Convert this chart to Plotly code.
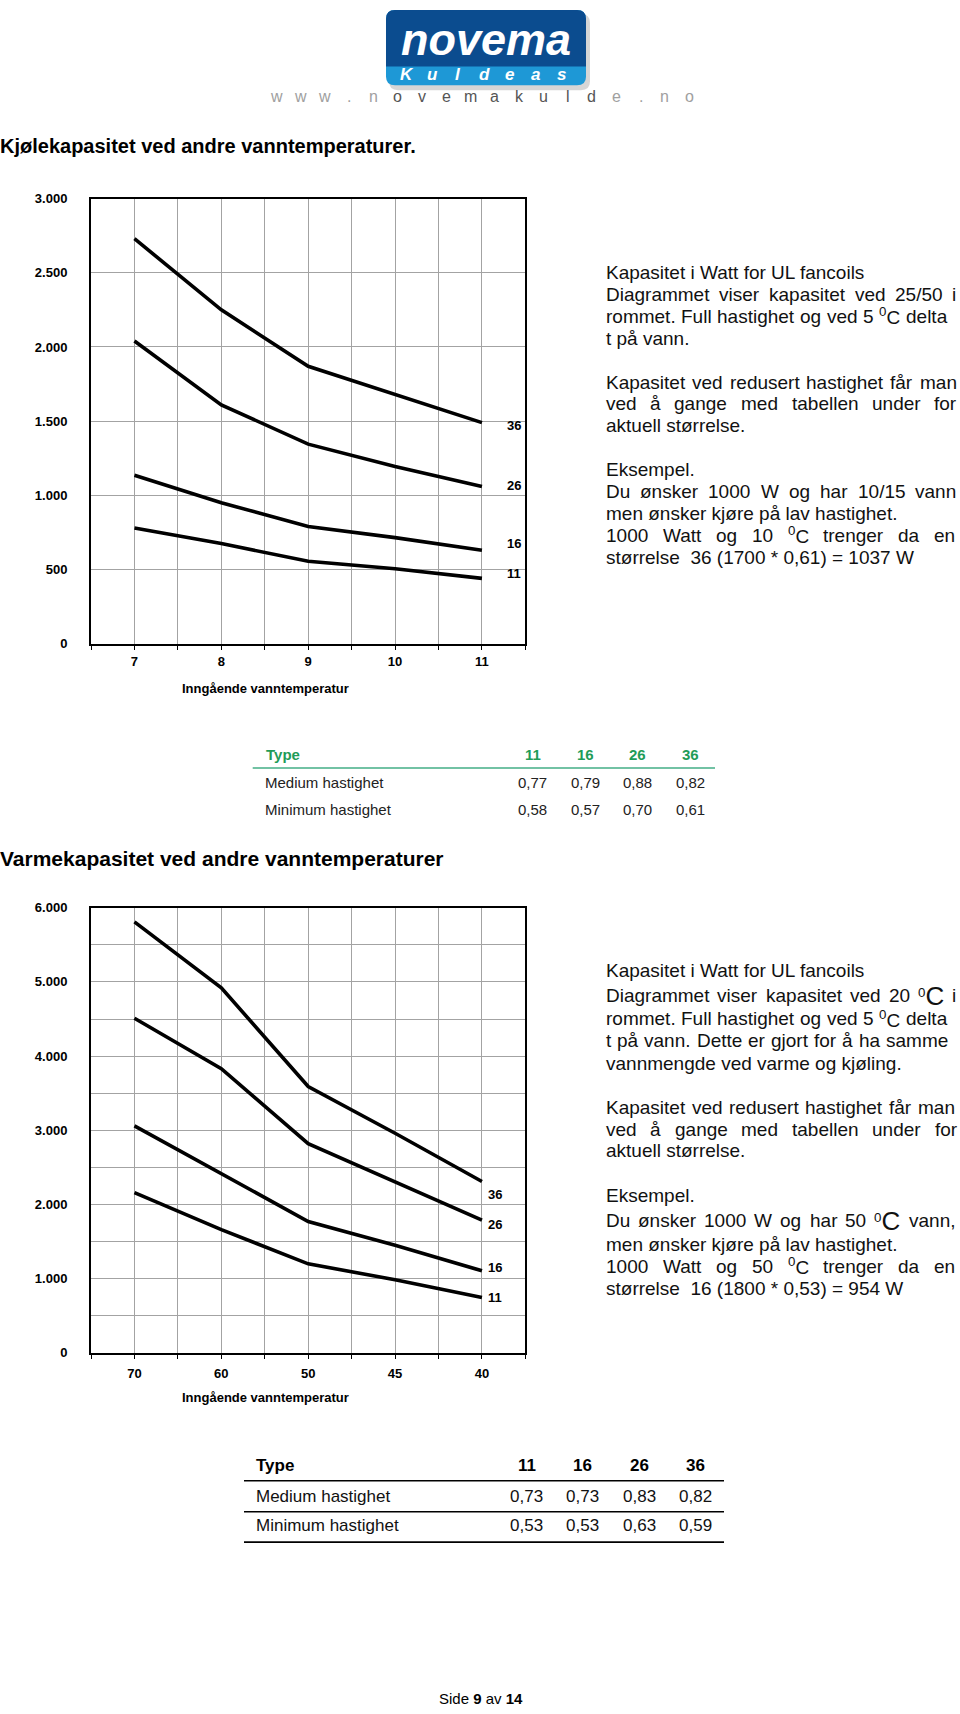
import plotly.graph_objects as go

W, H = 960, 1714
FONT = "Liberation Sans, Arial, sans-serif"

# ---------------- data ----------------
cool_x = [7, 8, 9, 10, 11]
cool_types = ["36", "26", "16", "11"]
cool_36 = [2730, 2250, 1870, 1680, 1490]
cool_26 = [2040, 1610, 1345, 1195, 1060]
cool_16 = [1135, 950, 790, 715, 630]
cool_11 = [780, 675, 555, 505, 440]

heat_x_labels = ["70", "60", "50", "45", "40"]
heat_types = ["36", "26", "16", "11"]
heat_36 = [5810, 4920, 3590, 2960, 2310]
heat_26 = [4510, 3830, 2820, 2310, 1790]
heat_16 = [3060, 2420, 1770, 1450, 1105]
heat_11 = [2160, 1660, 1200, 985, 745]

table_types = ["11", "16", "26", "36"]
cool_medium = ["0,77", "0,79", "0,88", "0,82"]
cool_minimum = ["0,58", "0,57", "0,70", "0,61"]
heat_medium = ["0,73", "0,73", "0,83", "0,82"]
heat_minimum = ["0,53", "0,53", "0,63", "0,59"]
row_names = ["Medium hastighet", "Minimum hastighet"]

title_cool = "Kjølekapasitet ved andre vanntemperaturer."
title_heat = "Varmekapasitet ved andre vanntemperaturer"
axis_title = "Inngående vanntemperatur"

# text blocks: (line, justified, y, right edge)
block_cool = [
    ("Kapasitet i Watt for UL fancoils", False, 268, 0),
    ("Diagrammet viser kapasitet ved 25/50 i", True, 290, 956.5),
    ("rommet. Full hastighet og ved 5 ^0C delta", True, 312, 947),
    ("t på vann.", False, 334.5, 0),
    ("Kapasitet ved redusert hastighet får man", True, 378.5, 956.5),
    ("ved å gange med tabellen under for", True, 400.5, 956.5),
    ("aktuell størrelse.", False, 422.5, 0),
    ("Eksempel.", False, 467, 0),
    ("Du ønsker 1000 W og har 10/15 vann", True, 489, 956.5),
    ("men ønsker kjøre på lav hastighet.", False, 511, 0),
    ("1000 Watt og 10 ^0C trenger da en", True, 533, 955),
    ("størrelse\u00a0 36 (1700 * 0,61) = 1037 W", False, 555, 0),
]
block_heat = [
    ("Kapasitet i Watt for UL fancoils", False, 972, 0),
    ("Diagrammet viser kapasitet ved 20 ^0§C i", True, 997.5, 956.5),
    ("rommet. Full hastighet og ved 5 ^0C delta", True, 1020.5, 947),
    ("t på vann. Dette er gjort for å ha samme", True, 1043, 948),
    ("vannmengde ved varme og kjøling.", False, 1065.5, 0),
    ("Kapasitet ved redusert hastighet får man", True, 1110, 955),
    ("ved å gange med tabellen under for", True, 1132.5, 957),
    ("aktuell størrelse.", False, 1154, 0),
    ("Eksempel.", False, 1198.5, 0),
    ("Du ønsker 1000 W og har 50 ^0§C vann,", True, 1224.5, 955),
    ("men ønsker kjøre på lav hastighet.", False, 1248, 0),
    ("1000 Watt og 50 ^0C trenger da en", True, 1270.5, 955),
    ("størrelse\u00a0 16 (1800 * 0,53) = 954 W", False, 1292.5, 0),
]

# ---------------- helpers ----------------
AW = {' ': 278, '!': 278, '(': 333, ')': 333, '*': 389, ',': 278, '-': 333, '.': 278,
      '/': 278, ':': 278, '=': 584, '\u00a0': 278,
      'A': 667, 'B': 667, 'C': 722, 'D': 722, 'E': 667, 'F': 611, 'G': 778, 'H': 722,
      'I': 278, 'J': 500, 'K': 667, 'L': 556, 'M': 833, 'N': 722, 'O': 778, 'P': 667,
      'Q': 778, 'R': 722, 'S': 667, 'T': 611, 'U': 722, 'V': 667, 'W': 944, 'X': 667,
      'Y': 667, 'Z': 611, 'a': 556, 'b': 556, 'c': 500, 'd': 556, 'e': 556, 'f': 278,
      'g': 556, 'h': 556, 'i': 222, 'j': 222, 'k': 500, 'l': 222, 'm': 833, 'n': 556,
      'o': 556, 'p': 556, 'q': 556, 'r': 333, 's': 500, 't': 278, 'u': 556, 'v': 500,
      'w': 722, 'x': 500, 'y': 500, 'z': 500, 'å': 556, 'ø': 611, 'æ': 889}
for d in "0123456789":
    AW[d] = 556

BODY = 19
BIGC = 26


def word_width(word, size):
    w = 0.0
    i = 0
    while i < len(word):
        if word[i:i + 2] == "^0":
            w += 0.7 * 556 * size / 1000
            i += 2
        elif word[i:i + 2] == "§C":
            w += 722 * BIGC / 1000
            i += 2
        else:
            w += AW.get(word[i], 556) * size / 1000
            i += 1
    return w


def markup(s):
    return (s.replace("^0", "<sup>0</sup>")
             .replace("§C", "<span style='font-size:%dpx'>C</span>" % BIGC))


def px(x):
    return x / W


def py(y):
    return 1 - y / H


annotations = []


def txt(x, y, text, size=BODY, color="#111111", bold=False, anchor="left",
        family=FONT, italic=False):
    annotations.append(dict(
        x=px(x), y=py(y), xref="paper", yref="paper", text=text, showarrow=False,
        xanchor=anchor, yanchor="middle", borderpad=0, borderwidth=0,
        font=dict(family=family, size=size, color=color,
                  weight="bold" if bold else "normal",
                  style="italic" if italic else "normal")))


def block(lines, x0):
    for line, just, y, x1 in lines:
        if not just:
            txt(x0, y, markup(line))
            continue
        words = line.split()
        widths = [word_width(wd, BODY) for wd in words]
        gap = (x1 - x0 - sum(widths)) / (len(words) - 1)
        x = x0
        for wd, ww in zip(words, widths):
            txt(x, y, markup(wd))
            x += ww + gap


# ---------------- figure ----------------
fig = go.Figure()

LINE = dict(color="black", width=3.6)
for ys in [cool_36, cool_26, cool_16, cool_11]:
    fig.add_trace(go.Scatter(x=cool_x, y=ys, mode="lines", line=LINE,
                             xaxis="x", yaxis="y", hoverinfo="skip"))
heat_pos = list(range(len(heat_x_labels)))
for ys in [heat_36, heat_26, heat_16, heat_11]:
    fig.add_trace(go.Scatter(x=heat_pos, y=ys, mode="lines", line=LINE,
                             xaxis="x2", yaxis="y2", hoverinfo="skip"))

GRID = "#a3a3a3"
TF = dict(family=FONT, size=13, color="black", weight="bold")
xdom = [91 / W, 525.4 / W]

common_x = dict(domain=xdom, showline=True, linecolor="black", linewidth=2,
                mirror=True, ticks="outside", ticklen=4, tickwidth=1.2,
                tickcolor="black", showgrid=True, gridcolor=GRID, gridwidth=1,
                zeroline=False, tickfont=TF,
                minor=dict(tickmode="linear", dtick=0.5, ticks="outside",
                           ticklen=4, tickwidth=1.2, tickcolor="black",
                           showgrid=True, gridcolor=GRID, gridwidth=1))
common_y = dict(showline=True, linecolor="black", linewidth=2, mirror=True,
                ticks="", showgrid=True, gridcolor=GRID, gridwidth=1,
                zeroline=False, tickfont=TF, tickformat=",d",
                ticklabelstandoff=19)

fig.update_layout(
    width=W, height=H, autosize=False,
    margin=dict(l=0, r=0, t=0, b=0, pad=0),
    paper_bgcolor="white", plot_bgcolor="white",
    showlegend=False, separators=",.",
    xaxis=dict(common_x, range=[6.5, 11.5], tickmode="linear", tick0=7,
               dtick=1, anchor="y", ticklabelstandoff=1),
    yaxis=dict(common_y, domain=[py(642.3), py(193.3)], range=[0, 3000],
               tickmode="linear", tick0=0, dtick=500, anchor="x"),
    xaxis2=dict(common_x, range=[-0.5, 4.5], tickmode="array",
                tickvals=heat_pos, ticktext=heat_x_labels, anchor="y2",
                ticklabelstandoff=4),
    yaxis2=dict(common_y, domain=[py(1357.7), py(908.7)], range=[0, 6000],
                tickmode="linear", tick0=0, dtick=1000, anchor="x2",
                minor=dict(tickmode="linear", dtick=500, showgrid=True,
                           gridcolor=GRID, gridwidth=1)),
)

# series labels
LBL = dict(family=FONT, size=13, color="black", weight="bold")
cool_shift = [-3, 1, 7, 5]
for lab, ys, ysh in zip(cool_types, [cool_36, cool_26, cool_16, cool_11], cool_shift):
    annotations.append(dict(x=cool_x[-1], y=ys[-1], xref="x", yref="y", text=lab,
                            showarrow=False, xshift=32, yshift=ysh, font=LBL))
heat_shift = [-13, -4, 3, 0]
for lab, ys, ysh in zip(heat_types, [heat_36, heat_26, heat_16, heat_11], heat_shift):
    annotations.append(dict(x=heat_pos[-1], y=ys[-1], xref="x2", yref="y2", text=lab,
                            showarrow=False, xshift=13, yshift=ysh, font=LBL))

# axis titles
txt(265, 687.3, axis_title, size=13, color="black", bold=True, anchor="center")
txt(265, 1403, axis_title, size=13, color="black", bold=True, anchor="center")

# headings
txt(0, 140, title_cool, size=20, color="black", bold=True)
txt(0, 859, title_heat, size=21, color="black", bold=True)

# text blocks
block(block_cool, 605.7)
block(block_heat, 605.7)

shapes = []

# table 1 (green header)
GREEN_T = "#1f9c58"
GREEN_L = "#72c2a4"
col1 = [532.7, 585, 637.3, 690]
txt(265.7, 754, "Type", size=15, color=GREEN_T, bold=True)
for cx, t in zip(col1, table_types):
    txt(cx, 754, t, size=15, color=GREEN_T, bold=True, anchor="center")
shapes.append(dict(type="line", xref="paper", yref="paper", x0=px(252.7), x1=px(715),
                   y0=py(767.7), y1=py(767.7), line=dict(color=GREEN_L, width=2)))
for ry, name, vals in zip([782.3, 810], row_names, [cool_medium, cool_minimum]):
    txt(265, ry, name, size=15, color="#222222")
    for cx, v in zip(col1, vals):
        txt(cx, ry, v, size=15, color="#222222", anchor="center")

# table 2 (black)
col2 = [526.7, 582.7, 639.3, 695.7]
txt(256, 1471.7, "Type", size=17, color="black", bold=True)
for cx, t in zip(col2, table_types):
    txt(cx, 1471.7, t, size=17, color="black", bold=True, anchor="center")
for ly in [1486.7, 1518, 1548.7]:
    shapes.append(dict(type="line", xref="paper", yref="paper", x0=px(244), x1=px(724),
                       y0=py(ly), y1=py(ly), line=dict(color="black", width=1.6)))
for ry, name, vals in zip([1502.3, 1532.3], row_names, [heat_medium, heat_minimum]):
    txt(256, ry, name, size=17, color="#111111")
    for cx, v in zip(col2, vals):
        txt(cx, ry, v, size=17, color="#111111", anchor="center")

# footer
txt(481, 1706, "Side <b>9</b> av <b>14</b>", size=15, color="black", anchor="center")


# logo
def rrect(x0, y0, x1, y1, r, top=True, bottom=True):
    rt = r if top else 0
    rb = r if bottom else 0
    pts = []
    pts.append("M %f,%f" % (px(x0 + rt), py(y0)))
    pts.append("L %f,%f" % (px(x1 - rt), py(y0)))
    pts.append("Q %f,%f %f,%f" % (px(x1), py(y0), px(x1), py(y0 + rt)))
    pts.append("L %f,%f" % (px(x1), py(y1 - rb)))
    pts.append("Q %f,%f %f,%f" % (px(x1), py(y1), px(x1 - rb), py(y1)))
    pts.append("L %f,%f" % (px(x0 + rb), py(y1)))
    pts.append("Q %f,%f %f,%f" % (px(x0), py(y1), px(x0), py(y1 - rb)))
    pts.append("L %f,%f" % (px(x0), py(y0 + rt)))
    pts.append("Q %f,%f %f,%f Z" % (px(x0), py(y0), px(x0 + rt), py(y0)))
    return " ".join(pts)


shapes.append(dict(type="path", xref="paper", yref="paper",
                   path=rrect(389, 7, 590, 84, 9), fillcolor="rgba(0,0,0,0.16)",
                   line=dict(width=0)))
shapes.append(dict(type="path", xref="paper", yref="paper",
                   path=rrect(386, 3, 586, 79, 9), fillcolor="#1e98d6",
                   line=dict(width=0)))
shapes.append(dict(type="path", xref="paper", yref="paper",
                   path=rrect(386, 3, 586, 60, 9, bottom=False), fillcolor="#0b4c8f",
                   line=dict(width=0)))
txt(486, 33, "novema", size=45, color="white", bold=True, italic=True, anchor="center")
kx0, kpitch = 406.7, 25.8
for i, ch in enumerate("Kuldeas"):
    txt(kx0 + i * kpitch, 68.5, ch, size=17, color="white", bold=True, italic=True,
        anchor="center")
www = "www.novemakulde.no"
for i, ch in enumerate(www):
    col = "#555555" if 5 <= i <= 13 else "#a0a0a0"
    txt(276 + i * 24.3, 90, ch, size=16, color=col, anchor="center")

fig.update_layout(annotations=annotations, shapes=shapes)
fig.write_html("out.html")
